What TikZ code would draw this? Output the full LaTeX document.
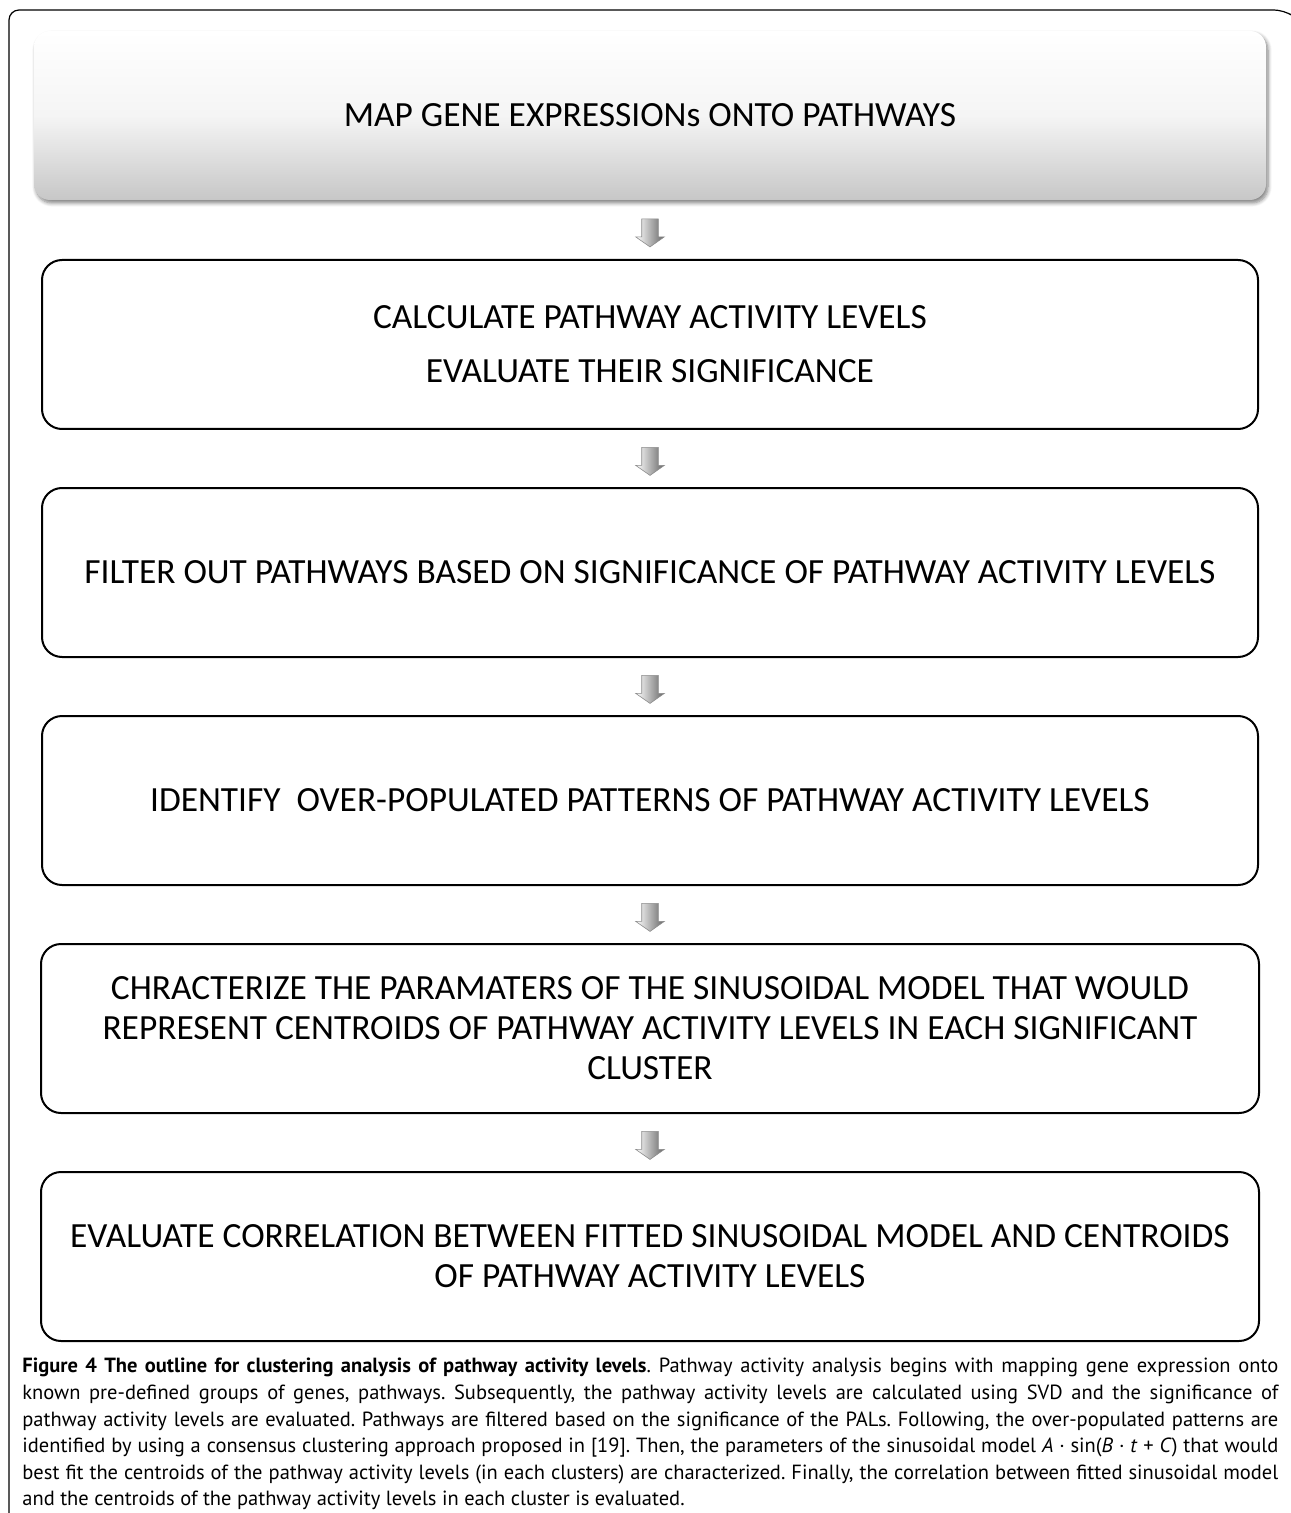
\documentclass[tikz,border=0pt]{standalone}
\usepackage{fontspec}
\setmainfont{Carlito}
\newfontfamily\capfont{PT Sans}
\usetikzlibrary{calc,shapes.arrows,shadows.blur}

\tikzset{
  stepbox/.style={draw=black, line width=1pt, rounded corners=10pt,
    minimum width=608pt, minimum height=84.5pt, inner sep=0pt,
    align=center, font=\fontsize{17.7}{20}\selectfont},
  topbox/.style={stepbox, draw=none, minimum width=616pt, rounded corners=8pt,
    top color=white, bottom color=black!22, middle color=white!96!black,
    blur shadow={shadow xshift=1pt, shadow yshift=-1.5pt, shadow blur steps=6, shadow opacity=50}},
  downarrow/.style={single arrow, shape border rotate=270, inner sep=4pt,
    minimum width=14pt, minimum height=14pt, single arrow head extend=3pt,
    single arrow tip angle=110,
    draw=black!45, line width=0.3pt, left color=white, right color=black!60}
}

\begin{document}
\begin{tikzpicture}[x=1pt, y=1pt]
    \useasboundingbox (0,0) rectangle (645,-756.5);

    % Frame
    \draw[line width=0.6pt, rounded corners=5pt] (4.5,-756.5) -- (4.5,-5) -- (642,-5) -- (645,-7);

    % Steps
    \node[topbox] (b1) at (325,-57.75) {MAP GENE EXPRESSIONs ONTO PATHWAYS};
    \node[stepbox] (b2) at (325,-172.25) {CALCULATE PATHWAY ACTIVITY LEVELS\\[7pt] EVALUATE THEIR SIGNIFICANCE};
    \node[stepbox] (b3) at (325,-286.25) {FILTER OUT PATHWAYS BASED ON SIGNIFICANCE OF PATHWAY ACTIVITY LEVELS};
    \node[stepbox] (b4) at (325,-400.25) {IDENTIFY\ \ OVER-POPULATED PATTERNS OF PATHWAY ACTIVITY LEVELS};
    \node[stepbox, minimum width=609pt] (b5) at (325,-514.25) {CHRACTERIZE THE PARAMATERS OF THE SINUSOIDAL MODEL THAT WOULD\\ REPRESENT CENTROIDS OF PATHWAY ACTIVITY LEVELS IN EACH SIGNIFICANT\\ CLUSTER};
    \node[stepbox, minimum width=609pt] (b6) at (325,-628.25) {EVALUATE CORRELATION BETWEEN FITTED SINUSOIDAL MODEL AND CENTROIDS\\ OF PATHWAY ACTIVITY LEVELS};

    % Arrows between steps
    \foreach \i/\j in {1/2, 2/3, 3/4, 4/5, 5/6}
        \node[downarrow] (a\i) at ($(b\i.south)!0.5!(b\j.north)$) {};

    % Caption
    \node[anchor=north west, inner sep=0pt, text width=628pt, align=justify,
          font=\capfont\fontsize{10.25}{13.3}\selectfont\frenchspacing] (cap) at (11,-679)
    {\textbf{Figure 4 The outline for clustering analysis of pathway activity levels}. Pathway activity analysis begins with mapping gene expression onto\linebreak
     known pre-defined groups of genes, pathways. Subsequently, the pathway activity levels are calculated using SVD and the significance of\linebreak
     pathway activity levels are evaluated. Pathways are filtered based on the significance of the PALs. Following, the over-populated patterns are\linebreak
     identified by using a consensus clustering approach proposed in [19]. Then, the parameters of the sinusoidal model \textit{A} · sin(\textit{B} · \textit{t} + \textit{C}) that would\linebreak
     best fit the centroids of the pathway activity levels (in each clusters) are characterized. Finally, the correlation between fitted sinusoidal model\linebreak
     and the centroids of the pathway activity levels in each cluster is evaluated.};

\end{tikzpicture}
\end{document}
